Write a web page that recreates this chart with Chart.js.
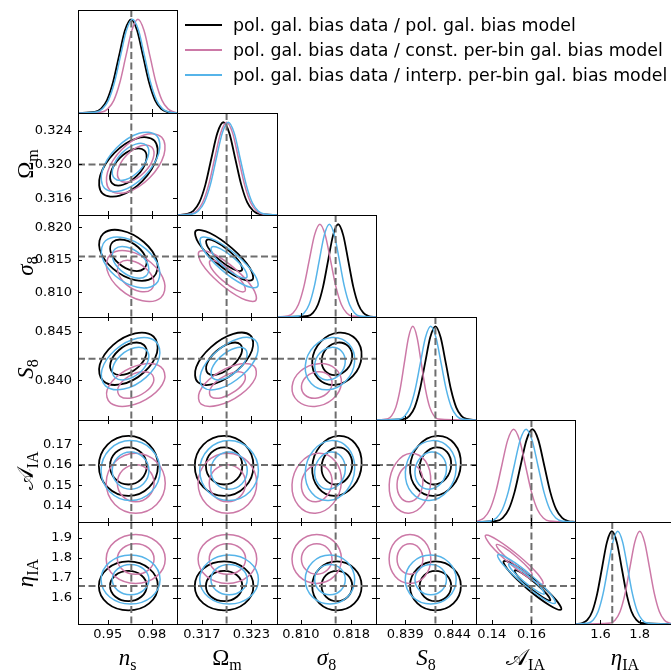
<!DOCTYPE html>
<html>
<head>
<meta charset="utf-8">
<script src="https://cdn.jsdelivr.net/npm/chart.js@4.4.1/dist/chart.umd.min.js"></script>
<style>
html, body { margin: 0; padding: 0; background: #fff; }
body { width: 671px; height: 671px; overflow: hidden; position: relative; }
canvas { position: absolute; }
.key { position: absolute; left: 185px; width: 37px; height: 0; border-top: 2px solid; }
.keytext { position: absolute; left: 233px; font: 17.4px 'DejaVu Sans', sans-serif; color: #000; white-space: nowrap; line-height: 20px; }
.axtitle { position: absolute; font: 23px 'Liberation Serif', 'DejaVu Serif', serif; color: #000; white-space: nowrap; line-height: 1; }
.axtitle sub { font-size: 16px; font-style: normal; vertical-align: baseline; position: relative; top: 5px; }
</style>
</head>
<body>
<script>
// parameter order: n_s, Omega_m, sigma_8, S_8, A_IA, eta_IA
const paramSymbol = ['n', 'Ω', 'σ', 'S', '𝒜', 'η'];
const paramSub = ['s', 'm', '8', '8', 'IA', 'IA'];
const symbolItalic = [true, false, true, true, false, true];
const paramMin = [0.9297, 0.3140, 0.8062, 0.8359, 0.132, 1.47];
const paramMax = [0.9971, 0.3261, 0.8219, 0.8465, 0.182, 1.98];
const truth = [0.966, 0.320, 0.8155, 0.8422, 0.160, 1.66];

const xTickVals = [[0.95, 0.98], [0.317, 0.323], [0.810, 0.818], [0.839, 0.844], [0.14, 0.16], [1.6, 1.8]];
const xTickText = [['0.95', '0.98'], ['0.317', '0.323'], ['0.810', '0.818'], ['0.839', '0.844'], ['0.14', '0.16'], ['1.6', '1.8']];
const yTickVals = [[], [0.316, 0.320, 0.324], [0.810, 0.815, 0.820], [0.840, 0.845], [0.14, 0.15, 0.16, 0.17], [1.6, 1.7, 1.8, 1.9]];
const yTickText = [[], ['0.316', '0.320', '0.324'], ['0.810', '0.815', '0.820'], ['0.840', '0.845'], ['0.14', '0.15', '0.16', '0.17'], ['1.6', '1.7', '1.8', '1.9']];

const modelNames = [
  'pol. gal. bias data / pol. gal. bias model',
  'pol. gal. bias data / const. per-bin gal. bias model',
  'pol. gal. bias data / interp. per-bin gal. bias model'
];
const modelColors = ['#000000', '#cc79a7', '#56b4e9'];
const modelWidths = [1.8, 1.5, 1.5];

// 1D marginals: normalised height shared by every curve, x positions per model
const pdfShape = [0, 0.011, 0.044, 0.135, 0.325, 0.607, 0.883, 1, 0.883, 0.607, 0.325, 0.135, 0.044, 0.011, 0];
const pdf_ns = [
  [0.9297, 0.9412, 0.9453, 0.9494, 0.9535, 0.9576, 0.9617, 0.9658, 0.9699, 0.9740, 0.9781, 0.9822, 0.9863, 0.9904, 0.9971],
  [0.9297, 0.9459, 0.9500, 0.9541, 0.9582, 0.9623, 0.9664, 0.9705, 0.9746, 0.9787, 0.9828, 0.9869, 0.9910, 0.9951, 0.9971],
  [0.9297, 0.9422, 0.9463, 0.9504, 0.9545, 0.9586, 0.9627, 0.9668, 0.9709, 0.9750, 0.9791, 0.9832, 0.9873, 0.9914, 0.9971]
];
const pdf_Om = [
  [0.3140, 0.31525, 0.31598, 0.31670, 0.31743, 0.31815, 0.31888, 0.3196, 0.32033, 0.32105, 0.32178, 0.32250, 0.32323, 0.32395, 0.3261],
  [0.3140, 0.31565, 0.31638, 0.31710, 0.31783, 0.31855, 0.31928, 0.3200, 0.32073, 0.32145, 0.32218, 0.32290, 0.32363, 0.32435, 0.3261],
  [0.3140, 0.31585, 0.31658, 0.31730, 0.31803, 0.31875, 0.31948, 0.3202, 0.32093, 0.32165, 0.32238, 0.32310, 0.32383, 0.32455, 0.3261]
];
const pdf_s8 = [
  [0.8062, 0.8111, 0.8119, 0.8127, 0.8135, 0.8143, 0.8151, 0.8159, 0.8167, 0.8175, 0.8183, 0.8191, 0.8199, 0.8207, 0.8219],
  [0.8062, 0.8079, 0.80875, 0.8096, 0.81045, 0.8113, 0.81215, 0.8130, 0.81385, 0.8147, 0.81555, 0.8164, 0.81725, 0.8181, 0.8219],
  [0.8062, 0.8097, 0.8105, 0.8113, 0.8121, 0.8129, 0.8137, 0.8145, 0.8153, 0.8161, 0.8169, 0.8177, 0.8185, 0.8193, 0.8219]
];
const pdf_S8 = [
  [0.8359, 0.8389, 0.83945, 0.8400, 0.84055, 0.8411, 0.84165, 0.8422, 0.84275, 0.8433, 0.84385, 0.8444, 0.84495, 0.8455, 0.8465],
  [0.8359, 0.8371, 0.83755, 0.8380, 0.83845, 0.8389, 0.83935, 0.8398, 0.84025, 0.8407, 0.84115, 0.8416, 0.84205, 0.8425, 0.8465],
  [0.8359, 0.8384, 0.83895, 0.8395, 0.84005, 0.8406, 0.84115, 0.8417, 0.84225, 0.8428, 0.84335, 0.8439, 0.84445, 0.8450, 0.8465]
];
const pdf_AIA = [
  [0.132, 0.1425, 0.1455, 0.1485, 0.1515, 0.1545, 0.1575, 0.1605, 0.1635, 0.1665, 0.1695, 0.1725, 0.1755, 0.1785, 0.182],
  [0.132, 0.1330, 0.1360, 0.1390, 0.1420, 0.1450, 0.1480, 0.1510, 0.1540, 0.1570, 0.1600, 0.1630, 0.1660, 0.1690, 0.182],
  [0.132, 0.1393, 0.1423, 0.1453, 0.1483, 0.1513, 0.1543, 0.1573, 0.1603, 0.1633, 0.1663, 0.1693, 0.1723, 0.1753, 0.182]
];
const pdf_eta = [
  [1.47, 1.508, 1.533, 1.558, 1.583, 1.608, 1.633, 1.658, 1.683, 1.708, 1.733, 1.758, 1.783, 1.808, 1.98],
  [1.47, 1.650, 1.675, 1.700, 1.725, 1.750, 1.775, 1.800, 1.825, 1.850, 1.875, 1.900, 1.925, 1.950, 1.98],
  [1.47, 1.538, 1.563, 1.588, 1.613, 1.638, 1.663, 1.688, 1.713, 1.738, 1.763, 1.788, 1.813, 1.838, 1.98]
];

// 2D contours, [xs, ys] per loop: black 68/95, pink 68/95, blue 68/95
const c_Om_ns = [
  [[0.9750, 0.9759, 0.9699, 0.9604, 0.9530, 0.9521, 0.9581, 0.9676], [0.32164, 0.32033, 0.31866, 0.31759, 0.31776, 0.31907, 0.32074, 0.32181]],
  [[0.9817, 0.9832, 0.9735, 0.9582, 0.9463, 0.9448, 0.9545, 0.9698], [0.32283, 0.32072, 0.31802, 0.31630, 0.31657, 0.31868, 0.32138, 0.32310]],
  [[0.9800, 0.9809, 0.9749, 0.9654, 0.9580, 0.9571, 0.9631, 0.9726], [0.32204, 0.32073, 0.31906, 0.31799, 0.31816, 0.31947, 0.32114, 0.32221]],
  [[0.9867, 0.9882, 0.9785, 0.9632, 0.9513, 0.9498, 0.9595, 0.9748], [0.32323, 0.32112, 0.31842, 0.31670, 0.31697, 0.31908, 0.32178, 0.32350]],
  [[0.9765, 0.9774, 0.9714, 0.9619, 0.9545, 0.9536, 0.9596, 0.9691], [0.32224, 0.32093, 0.31926, 0.31819, 0.31836, 0.31967, 0.32134, 0.32241]],
  [[0.9832, 0.9847, 0.9750, 0.9597, 0.9478, 0.9463, 0.9560, 0.9713], [0.32343, 0.32132, 0.31862, 0.31690, 0.31717, 0.31928, 0.32198, 0.32370]]
];
const c_s8_ns = [
  [[0.9705, 0.9761, 0.9746, 0.9669, 0.9575, 0.9519, 0.9534, 0.9611], [0.81697, 0.81514, 0.81363, 0.81334, 0.81443, 0.81626, 0.81777, 0.81806]],
  [[0.9745, 0.9835, 0.9811, 0.9686, 0.9535, 0.9445, 0.9469, 0.9594], [0.81775, 0.81479, 0.81236, 0.81189, 0.81365, 0.81661, 0.81904, 0.81951]],
  [[0.9755, 0.9811, 0.9796, 0.9719, 0.9625, 0.9569, 0.9584, 0.9661], [0.81377, 0.81194, 0.81043, 0.81014, 0.81123, 0.81306, 0.81457, 0.81486]],
  [[0.9795, 0.9885, 0.9861, 0.9736, 0.9585, 0.9495, 0.9519, 0.9644], [0.81455, 0.81159, 0.80916, 0.80869, 0.81045, 0.81341, 0.81584, 0.81631]],
  [[0.9720, 0.9776, 0.9761, 0.9684, 0.9590, 0.9534, 0.9549, 0.9626], [0.81587, 0.81404, 0.81253, 0.81224, 0.81333, 0.81516, 0.81667, 0.81696]],
  [[0.9760, 0.9850, 0.9826, 0.9701, 0.9550, 0.9460, 0.9484, 0.9609], [0.81665, 0.81369, 0.81126, 0.81079, 0.81255, 0.81551, 0.81794, 0.81841]]
];
const c_s8_Om = [
  [[0.32030, 0.32163, 0.32182, 0.32077, 0.31910, 0.31777, 0.31758, 0.31863], [0.81637, 0.81452, 0.81336, 0.81358, 0.81503, 0.81688, 0.81804, 0.81782]],
  [[0.32067, 0.32280, 0.32312, 0.32143, 0.31873, 0.31660, 0.31628, 0.31797], [0.81677, 0.81379, 0.81193, 0.81227, 0.81463, 0.81761, 0.81947, 0.81913]],
  [[0.32070, 0.32203, 0.32222, 0.32117, 0.31950, 0.31817, 0.31798, 0.31903], [0.81317, 0.81132, 0.81016, 0.81038, 0.81183, 0.81368, 0.81484, 0.81462]],
  [[0.32107, 0.32320, 0.32352, 0.32183, 0.31913, 0.31700, 0.31668, 0.31837], [0.81357, 0.81059, 0.80873, 0.80907, 0.81143, 0.81441, 0.81627, 0.81593]],
  [[0.32090, 0.32223, 0.32242, 0.32137, 0.31970, 0.31837, 0.31818, 0.31923], [0.81527, 0.81342, 0.81226, 0.81248, 0.81393, 0.81578, 0.81694, 0.81672]],
  [[0.32127, 0.32340, 0.32372, 0.32203, 0.31933, 0.31720, 0.31688, 0.31857], [0.81567, 0.81269, 0.81083, 0.81117, 0.81353, 0.81651, 0.81837, 0.81803]]
];
const c_S8_ns = [
  [[0.9746, 0.9761, 0.9705, 0.9611, 0.9534, 0.9519, 0.9575, 0.9669], [0.84362, 0.84259, 0.84132, 0.84057, 0.84078, 0.84181, 0.84308, 0.84383]],
  [[0.9811, 0.9835, 0.9745, 0.9594, 0.9469, 0.9445, 0.9535, 0.9686], [0.84449, 0.84282, 0.84079, 0.83958, 0.83991, 0.84158, 0.84361, 0.84482]],
  [[0.9796, 0.9811, 0.9755, 0.9661, 0.9584, 0.9569, 0.9625, 0.9719], [0.84066, 0.83982, 0.83878, 0.83817, 0.83834, 0.83918, 0.84022, 0.84083]],
  [[0.9861, 0.9885, 0.9795, 0.9644, 0.9519, 0.9495, 0.9585, 0.9736], [0.84137, 0.84001, 0.83835, 0.83736, 0.83763, 0.83899, 0.84065, 0.84164]],
  [[0.9761, 0.9776, 0.9720, 0.9626, 0.9549, 0.9534, 0.9590, 0.9684], [0.84312, 0.84209, 0.84082, 0.84007, 0.84028, 0.84131, 0.84258, 0.84333]],
  [[0.9826, 0.9850, 0.9760, 0.9609, 0.9484, 0.9460, 0.9550, 0.9701], [0.84399, 0.84232, 0.84029, 0.83908, 0.83941, 0.84108, 0.84311, 0.84432]]
];
const c_S8_Om = [
  [[0.32167, 0.32179, 0.32068, 0.31900, 0.31773, 0.31761, 0.31872, 0.32040], [0.84369, 0.84273, 0.84145, 0.84061, 0.84071, 0.84167, 0.84295, 0.84379]],
  [[0.32288, 0.32307, 0.32129, 0.31858, 0.31652, 0.31633, 0.31811, 0.32082], [0.84461, 0.84305, 0.84100, 0.83964, 0.83979, 0.84135, 0.84340, 0.84476]],
  [[0.32207, 0.32219, 0.32108, 0.31940, 0.31813, 0.31801, 0.31912, 0.32080], [0.84072, 0.83993, 0.83889, 0.83820, 0.83828, 0.83907, 0.84011, 0.84080]],
  [[0.32328, 0.32347, 0.32169, 0.31898, 0.31692, 0.31673, 0.31851, 0.32122], [0.84147, 0.84020, 0.83851, 0.83741, 0.83753, 0.83880, 0.84049, 0.84159]],
  [[0.32227, 0.32239, 0.32128, 0.31960, 0.31833, 0.31821, 0.31932, 0.32100], [0.84319, 0.84223, 0.84095, 0.84011, 0.84021, 0.84117, 0.84245, 0.84329]],
  [[0.32348, 0.32367, 0.32189, 0.31918, 0.31712, 0.31693, 0.31871, 0.32142], [0.84411, 0.84255, 0.84050, 0.83914, 0.83929, 0.84085, 0.84290, 0.84426]]
];
const c_S8_s8 = [
  [[0.81754, 0.81812, 0.81729, 0.81552, 0.81386, 0.81328, 0.81411, 0.81588], [0.84347, 0.84233, 0.84111, 0.84053, 0.84093, 0.84207, 0.84329, 0.84387]],
  [[0.81867, 0.81961, 0.81826, 0.81541, 0.81273, 0.81179, 0.81314, 0.81599], [0.84424, 0.84240, 0.84044, 0.83951, 0.84016, 0.84200, 0.84396, 0.84489]],
  [[0.81434, 0.81492, 0.81409, 0.81232, 0.81066, 0.81008, 0.81091, 0.81268], [0.84054, 0.83960, 0.83861, 0.83814, 0.83846, 0.83940, 0.84039, 0.84086]],
  [[0.81547, 0.81641, 0.81506, 0.81221, 0.80953, 0.80859, 0.80994, 0.81279], [0.84117, 0.83967, 0.83806, 0.83730, 0.83783, 0.83933, 0.84094, 0.84170]],
  [[0.81644, 0.81702, 0.81619, 0.81442, 0.81276, 0.81218, 0.81301, 0.81478], [0.84297, 0.84183, 0.84061, 0.84003, 0.84043, 0.84157, 0.84279, 0.84337]],
  [[0.81757, 0.81851, 0.81716, 0.81431, 0.81163, 0.81069, 0.81204, 0.81489], [0.84374, 0.84190, 0.83994, 0.83901, 0.83966, 0.84150, 0.84346, 0.84439]]
];
const c_AIA_ns = [
  [[0.9728, 0.9765, 0.9728, 0.9640, 0.9552, 0.9515, 0.9552, 0.9640], [0.16595, 0.1595, 0.15305, 0.15038, 0.15305, 0.1595, 0.16595, 0.16862]],
  [[0.9782, 0.9841, 0.9782, 0.9640, 0.9498, 0.9439, 0.9498, 0.9640], [0.16989, 0.1595, 0.14911, 0.1448, 0.14911, 0.1595, 0.16989, 0.1742]],
  [[0.9778, 0.9815, 0.9778, 0.9690, 0.9602, 0.9565, 0.9602, 0.9690], [0.15745, 0.1510, 0.14455, 0.14188, 0.14455, 0.1510, 0.15745, 0.16012]],
  [[0.9832, 0.9891, 0.9832, 0.9690, 0.9548, 0.9489, 0.9548, 0.9690], [0.16139, 0.1510, 0.14061, 0.1363, 0.14061, 0.1510, 0.16139, 0.1657]],
  [[0.9743, 0.9780, 0.9743, 0.9655, 0.9567, 0.9530, 0.9567, 0.9655], [0.16365, 0.1572, 0.15075, 0.14808, 0.15075, 0.1572, 0.16365, 0.16632]],
  [[0.9797, 0.9856, 0.9797, 0.9655, 0.9513, 0.9454, 0.9513, 0.9655], [0.16759, 0.1572, 0.14681, 0.1425, 0.14681, 0.1572, 0.16759, 0.1719]]
];
const c_AIA_Om = [
  [[0.32126, 0.32190, 0.32126, 0.3197, 0.31814, 0.31750, 0.31814, 0.3197], [0.16595, 0.1595, 0.15305, 0.15038, 0.15305, 0.1595, 0.16595, 0.16862]],
  [[0.32221, 0.32325, 0.32221, 0.3197, 0.31719, 0.31615, 0.31719, 0.3197], [0.16989, 0.1595, 0.14911, 0.1448, 0.14911, 0.1595, 0.16989, 0.1742]],
  [[0.32166, 0.32230, 0.32166, 0.3201, 0.31854, 0.31790, 0.31854, 0.3201], [0.15745, 0.1510, 0.14455, 0.14188, 0.14455, 0.1510, 0.15745, 0.16012]],
  [[0.32261, 0.32365, 0.32261, 0.3201, 0.31759, 0.31655, 0.31759, 0.3201], [0.16139, 0.1510, 0.14061, 0.1363, 0.14061, 0.1510, 0.16139, 0.1657]],
  [[0.32186, 0.32250, 0.32186, 0.3203, 0.31874, 0.31810, 0.31874, 0.3203], [0.16365, 0.1572, 0.15075, 0.14808, 0.15075, 0.1572, 0.16365, 0.16632]],
  [[0.32281, 0.32385, 0.32281, 0.3203, 0.31779, 0.31675, 0.31779, 0.3203], [0.16759, 0.1572, 0.14681, 0.1425, 0.14681, 0.1572, 0.16759, 0.1719]]
];
const c_AIA_s8 = [
  [[0.81750, 0.81813, 0.81733, 0.81558, 0.81390, 0.81327, 0.81407, 0.81582], [0.16627, 0.15996, 0.15338, 0.15039, 0.15273, 0.15904, 0.16562, 0.16861]],
  [[0.81861, 0.81962, 0.81833, 0.81550, 0.81279, 0.81178, 0.81307, 0.81590], [0.17041, 0.16024, 0.14964, 0.14481, 0.14859, 0.15876, 0.16936, 0.17419]],
  [[0.81430, 0.81493, 0.81413, 0.81238, 0.81070, 0.81007, 0.81087, 0.81262], [0.15777, 0.15146, 0.14488, 0.14189, 0.14423, 0.15054, 0.15712, 0.16011]],
  [[0.81541, 0.81642, 0.81513, 0.81230, 0.80959, 0.80858, 0.80987, 0.81270], [0.16191, 0.15174, 0.14114, 0.13631, 0.14009, 0.15026, 0.16086, 0.16569]],
  [[0.81640, 0.81703, 0.81623, 0.81448, 0.81280, 0.81217, 0.81297, 0.81472], [0.16397, 0.15766, 0.15108, 0.14809, 0.15043, 0.15674, 0.16332, 0.16631]],
  [[0.81751, 0.81852, 0.81723, 0.81440, 0.81169, 0.81068, 0.81197, 0.81480], [0.16811, 0.15794, 0.14734, 0.14251, 0.14629, 0.15646, 0.16706, 0.17189]]
];
const c_AIA_S8 = [
  [[0.84344, 0.84387, 0.84332, 0.84212, 0.84096, 0.84053, 0.84108, 0.84228], [0.16627, 0.15996, 0.15338, 0.15039, 0.15273, 0.15904, 0.16562, 0.16861]],
  [[0.84420, 0.84489, 0.84401, 0.84206, 0.84020, 0.83951, 0.84039, 0.84234], [0.17041, 0.16024, 0.14964, 0.14481, 0.14859, 0.15876, 0.16936, 0.17419]],
  [[0.84052, 0.84087, 0.84042, 0.83943, 0.83848, 0.83813, 0.83858, 0.83957], [0.15777, 0.15146, 0.14488, 0.14189, 0.14423, 0.15054, 0.15712, 0.16011]],
  [[0.84114, 0.84170, 0.84098, 0.83939, 0.83786, 0.83730, 0.83802, 0.83961], [0.16191, 0.15174, 0.14114, 0.13631, 0.14009, 0.15026, 0.16086, 0.16569]],
  [[0.84294, 0.84337, 0.84282, 0.84162, 0.84046, 0.84003, 0.84058, 0.84178], [0.16397, 0.15766, 0.15108, 0.14809, 0.15043, 0.15674, 0.16332, 0.16631]],
  [[0.84370, 0.84439, 0.84351, 0.84156, 0.83970, 0.83901, 0.83989, 0.84184], [0.16811, 0.15794, 0.14734, 0.14251, 0.14629, 0.15646, 0.16706, 0.17189]]
];
const c_eta_ns = [
  [[0.9728, 0.9765, 0.9728, 0.9640, 0.9552, 0.9515, 0.9552, 0.9640], [1.714, 1.660, 1.606, 1.584, 1.606, 1.660, 1.714, 1.736]],
  [[0.9782, 0.9841, 0.9782, 0.9640, 0.9498, 0.9439, 0.9498, 0.9640], [1.747, 1.660, 1.573, 1.538, 1.573, 1.660, 1.747, 1.783]],
  [[0.9778, 0.9815, 0.9778, 0.9690, 0.9602, 0.9565, 0.9602, 0.9690], [1.849, 1.795, 1.741, 1.719, 1.741, 1.795, 1.849, 1.871]],
  [[0.9832, 0.9891, 0.9832, 0.9690, 0.9548, 0.9489, 0.9548, 0.9690], [1.882, 1.795, 1.708, 1.673, 1.708, 1.795, 1.882, 1.918]],
  [[0.9743, 0.9780, 0.9743, 0.9655, 0.9567, 0.9530, 0.9567, 0.9655], [1.746, 1.692, 1.638, 1.616, 1.638, 1.692, 1.746, 1.768]],
  [[0.9797, 0.9856, 0.9797, 0.9655, 0.9513, 0.9454, 0.9513, 0.9655], [1.779, 1.692, 1.605, 1.570, 1.605, 1.692, 1.779, 1.815]]
];
const c_eta_Om = [
  [[0.32126, 0.32190, 0.32126, 0.3197, 0.31814, 0.31750, 0.31814, 0.3197], [1.714, 1.660, 1.606, 1.584, 1.606, 1.660, 1.714, 1.736]],
  [[0.32221, 0.32325, 0.32221, 0.3197, 0.31719, 0.31615, 0.31719, 0.3197], [1.747, 1.660, 1.573, 1.538, 1.573, 1.660, 1.747, 1.783]],
  [[0.32166, 0.32230, 0.32166, 0.3201, 0.31854, 0.31790, 0.31854, 0.3201], [1.849, 1.795, 1.741, 1.719, 1.741, 1.795, 1.849, 1.871]],
  [[0.32261, 0.32365, 0.32261, 0.3201, 0.31759, 0.31655, 0.31759, 0.3201], [1.882, 1.795, 1.708, 1.673, 1.708, 1.795, 1.882, 1.918]],
  [[0.32186, 0.32250, 0.32186, 0.3203, 0.31874, 0.31810, 0.31874, 0.3203], [1.746, 1.692, 1.638, 1.616, 1.638, 1.692, 1.746, 1.768]],
  [[0.32281, 0.32385, 0.32281, 0.3203, 0.31779, 0.31675, 0.31779, 0.3203], [1.779, 1.692, 1.605, 1.570, 1.605, 1.692, 1.779, 1.815]]
];
const c_eta_s8 = [
  [[0.81742, 0.81813, 0.81742, 0.8157, 0.81398, 0.81327, 0.81398, 0.8157], [1.714, 1.660, 1.606, 1.584, 1.606, 1.660, 1.714, 1.736]],
  [[0.81847, 0.81962, 0.81847, 0.8157, 0.81293, 0.81178, 0.81293, 0.8157], [1.747, 1.660, 1.573, 1.538, 1.573, 1.660, 1.747, 1.783]],
  [[0.81422, 0.81493, 0.81422, 0.8125, 0.81078, 0.81007, 0.81078, 0.8125], [1.849, 1.795, 1.741, 1.719, 1.741, 1.795, 1.849, 1.871]],
  [[0.81527, 0.81642, 0.81527, 0.8125, 0.80973, 0.80858, 0.80973, 0.8125], [1.882, 1.795, 1.708, 1.673, 1.708, 1.795, 1.882, 1.918]],
  [[0.81632, 0.81703, 0.81632, 0.8146, 0.81288, 0.81217, 0.81288, 0.8146], [1.746, 1.692, 1.638, 1.616, 1.638, 1.692, 1.746, 1.768]],
  [[0.81737, 0.81852, 0.81737, 0.8146, 0.81183, 0.81068, 0.81183, 0.8146], [1.779, 1.692, 1.605, 1.570, 1.605, 1.692, 1.779, 1.815]]
];
const c_eta_S8 = [
  [[0.84338, 0.84387, 0.84338, 0.8422, 0.84102, 0.84053, 0.84102, 0.8422], [1.714, 1.660, 1.606, 1.584, 1.606, 1.660, 1.714, 1.736]],
  [[0.84411, 0.84490, 0.84411, 0.8422, 0.84029, 0.83950, 0.84029, 0.8422], [1.747, 1.660, 1.573, 1.538, 1.573, 1.660, 1.747, 1.783]],
  [[0.84047, 0.84087, 0.84047, 0.8395, 0.83853, 0.83813, 0.83853, 0.8395], [1.849, 1.795, 1.741, 1.719, 1.741, 1.795, 1.849, 1.871]],
  [[0.84106, 0.84171, 0.84106, 0.8395, 0.83794, 0.83729, 0.83794, 0.8395], [1.882, 1.795, 1.708, 1.673, 1.708, 1.795, 1.882, 1.918]],
  [[0.84288, 0.84337, 0.84288, 0.8417, 0.84052, 0.84003, 0.84052, 0.8417], [1.746, 1.692, 1.638, 1.616, 1.638, 1.692, 1.746, 1.768]],
  [[0.84361, 0.84440, 0.84361, 0.8417, 0.83979, 0.83900, 0.83979, 0.8417], [1.779, 1.692, 1.605, 1.570, 1.605, 1.692, 1.779, 1.815]]
];
const c_eta_AIA = [
  [[0.16194, 0.16788, 0.16950, 0.16585, 0.15906, 0.15312, 0.15150, 0.15515], [1.675, 1.618, 1.588, 1.602, 1.651, 1.708, 1.738, 1.725]],
  [[0.16282, 0.17240, 0.17501, 0.16912, 0.15818, 0.14860, 0.14599, 0.15188], [1.682, 1.591, 1.542, 1.564, 1.644, 1.735, 1.784, 1.762]],
  [[0.15274, 0.15868, 0.16030, 0.15665, 0.14986, 0.14392, 0.14230, 0.14595], [1.804, 1.747, 1.717, 1.731, 1.780, 1.837, 1.867, 1.854]],
  [[0.15362, 0.16320, 0.16581, 0.15992, 0.14898, 0.13940, 0.13679, 0.14268], [1.811, 1.720, 1.671, 1.693, 1.773, 1.864, 1.913, 1.891]],
  [[0.15894, 0.16488, 0.16650, 0.16285, 0.15606, 0.15012, 0.14850, 0.15215], [1.707, 1.650, 1.620, 1.634, 1.683, 1.740, 1.770, 1.757]],
  [[0.15982, 0.16940, 0.17201, 0.16612, 0.15518, 0.14560, 0.14299, 0.14888], [1.714, 1.623, 1.574, 1.596, 1.676, 1.767, 1.816, 1.794]]
];

const pdfPanels = [pdf_ns, pdf_Om, pdf_s8, pdf_S8, pdf_AIA, pdf_eta];
const contourPanels = {
  '1,0': c_Om_ns, '2,0': c_s8_ns, '2,1': c_s8_Om,
  '3,0': c_S8_ns, '3,1': c_S8_Om, '3,2': c_S8_s8,
  '4,0': c_AIA_ns, '4,1': c_AIA_Om, '4,2': c_AIA_s8, '4,3': c_AIA_S8,
  '5,0': c_eta_ns, '5,1': c_eta_Om, '5,2': c_eta_s8, '5,3': c_eta_S8, '5,4': c_eta_AIA
};

// grid of panel edges in page pixels
const colEdge = [78, 177, 277, 376, 476, 575, 675];
const rowEdge = [10, 113, 215, 317, 420, 522, 624];
const labelBand = 22;

// frame, inward ticks and dashed fiducial lines for each panel
const panelDecor = {
  id: 'panelDecor',
  afterDatasetsDraw(chart, args, opts) {
    const { ctx, chartArea: a } = chart;
    const sx = chart.scales.x, sy = chart.scales.y;
    ctx.save();
    ctx.beginPath();
    ctx.rect(a.left, a.top, a.right - a.left + 1, a.bottom - a.top + 1);
    ctx.clip();
    ctx.strokeStyle = '#6e6e6e';
    ctx.lineWidth = 2;
    ctx.setLineDash([7, 3.5]);
    const tx = sx.getPixelForValue(opts.truthX);
    ctx.beginPath();
    ctx.moveTo(tx, a.top);
    ctx.lineTo(tx, a.bottom);
    ctx.stroke();
    if (opts.truthY !== null) {
      const ty = sy.getPixelForValue(opts.truthY);
      ctx.beginPath();
      ctx.moveTo(a.left, ty);
      ctx.lineTo(a.right, ty);
      ctx.stroke();
    }
    ctx.setLineDash([]);
    ctx.strokeStyle = '#000';
    ctx.lineWidth = 1;
    ctx.beginPath();
    opts.xTicks.forEach(v => {
      const p = Math.round(sx.getPixelForValue(v)) + 0.5;
      ctx.moveTo(p, a.bottom);
      ctx.lineTo(p, a.bottom - 4);
      if (opts.twoD) {
        ctx.moveTo(p, a.top);
        ctx.lineTo(p, a.top + 4);
      }
    });
    opts.yTicks.forEach(v => {
      const p = Math.round(sy.getPixelForValue(v)) + 0.5;
      ctx.moveTo(a.left, p);
      ctx.lineTo(a.left + 4, p);
      ctx.moveTo(a.right, p);
      ctx.lineTo(a.right - 4, p);
    });
    ctx.stroke();
    ctx.restore();
    ctx.save();
    ctx.strokeStyle = '#000';
    ctx.lineWidth = 1;
    ctx.strokeRect(a.left + 0.5, a.top + 0.5, a.right - a.left, a.bottom - a.top);
    ctx.restore();
  }
};

function loopDataset(xs, ys, m) {
  const pts = xs.map((x, i) => ({ x: x, y: ys[i] }));
  const n = pts.length;
  // wrap the loop so every visible segment gets smooth control points
  const data = [pts[n - 1], ...pts, pts[0], pts[1]];
  return {
    data: data,
    showLine: true,
    tension: 0.38,
    pointRadius: 0,
    borderColor: modelColors[m],
    borderWidth: modelWidths[m],
    order: 2 - m,
    segment: {
      borderColor: ctx => (ctx.p0DataIndex === 0 || ctx.p0DataIndex === n + 1) ? 'rgba(0,0,0,0)' : undefined
    }
  };
}

function pdfDataset(xs, m) {
  return {
    data: xs.map((x, i) => ({ x: x, y: pdfShape[i] })),
    showLine: true,
    cubicInterpolationMode: 'monotone',
    pointRadius: 0,
    borderColor: modelColors[m],
    borderWidth: modelWidths[m],
    order: 2 - m
  };
}

// keep the plot box fixed: no extra room for overhanging tick labels
function pinScale(s, size, horizontal) {
  if (horizontal) s.height = size; else s.width = size;
  s.paddingTop = 0;
  s.paddingBottom = 0;
  s.paddingLeft = 0;
  s.paddingRight = 0;
}

function makePanel(r, c) {
  const L = colEdge[c], R = colEdge[c + 1], T = rowEdge[r], B = rowEdge[r + 1];
  const diag = r === c;
  const showY = c === 0 && !diag;
  const showX = r === 5;
  const left = showY ? 0 : L;
  const w = R - left + 1;
  const h = B - T + 1 + (showX ? labelBand : 0);
  const canvas = document.createElement('canvas');
  canvas.width = w;
  canvas.height = h;
  canvas.style.left = left + 'px';
  canvas.style.top = T + 'px';
  canvas.style.width = w + 'px';
  canvas.style.height = h + 'px';
  document.body.appendChild(canvas);

  const datasets = [];
  if (diag) {
    pdfPanels[c].forEach((xs, m) => datasets.push(pdfDataset(xs, m)));
  } else {
    contourPanels[r + ',' + c].forEach((loop, k) => datasets.push(loopDataset(loop[0], loop[1], Math.floor(k / 2))));
  }

  const tickFont = { family: 'DejaVu Sans', size: 13 };
  new Chart(canvas, {
    type: 'scatter',
    data: { datasets: datasets },
    plugins: [panelDecor],
    options: {
      responsive: false,
      maintainAspectRatio: false,
      animation: false,
      events: [],
      layout: { padding: { left: 0, top: 0, right: 1, bottom: 1 } },
      plugins: {
        legend: { display: false },
        tooltip: { enabled: false },
        panelDecor: {
          truthX: truth[c],
          truthY: diag ? null : truth[r],
          xTicks: xTickVals[c],
          yTicks: diag ? [] : yTickVals[r],
          twoD: !diag
        }
      },
      scales: {
        x: {
          type: 'linear',
          min: paramMin[c],
          max: paramMax[c],
          display: showX,
          grid: { display: false, drawTicks: false },
          border: { display: false },
          afterBuildTicks: s => { s.ticks = xTickVals[c].map(v => ({ value: v })); },
          afterFit: s => { if (showX) pinScale(s, labelBand, true); },
          ticks: {
            autoSkip: false, maxRotation: 0, padding: 3, color: '#000', font: tickFont,
            callback: (v, i) => xTickText[c][i]
          }
        },
        y: {
          type: 'linear',
          min: diag ? 0 : paramMin[r],
          max: diag ? 1.1 : paramMax[r],
          display: showY,
          grid: { display: false, drawTicks: false },
          border: { display: false },
          afterBuildTicks: s => { if (!diag) s.ticks = yTickVals[r].map(v => ({ value: v })); },
          afterFit: s => { if (showY) pinScale(s, L, false); },
          ticks: {
            autoSkip: false, padding: 6, color: '#000', font: tickFont,
            callback: (v, i) => diag ? '' : yTickText[r][i]
          }
        }
      }
    }
  });
}

for (let r = 0; r < 6; r++) {
  for (let c = 0; c <= r; c++) makePanel(r, c);
}

// legend
modelNames.forEach((name, m) => {
  const cy = 25 + 25 * m;
  const line = document.createElement('div');
  line.className = 'key';
  line.style.top = (cy - 1) + 'px';
  line.style.borderTopColor = modelColors[m];
  document.body.appendChild(line);
  const txt = document.createElement('div');
  txt.className = 'keytext';
  txt.style.top = (cy - 10) + 'px';
  txt.textContent = name;
  document.body.appendChild(txt);
});

// axis titles
function titleNode(p) {
  const el = document.createElement('div');
  el.className = 'axtitle';
  const main = document.createElement('span');
  main.textContent = paramSymbol[p];
  main.style.fontStyle = symbolItalic[p] ? 'italic' : 'normal';
  const sub = document.createElement('sub');
  sub.textContent = paramSub[p];
  el.appendChild(main);
  el.appendChild(sub);
  document.body.appendChild(el);
  return el;
}
for (let c = 0; c < 6; c++) {
  const el = titleNode(c);
  el.style.left = ((colEdge[c] + colEdge[c + 1]) / 2) + 'px';
  el.style.top = '646px';
  el.style.transform = 'translateX(-50%)';
}
for (let r = 1; r < 6; r++) {
  const el = titleNode(r);
  el.style.left = '25px';
  el.style.top = ((rowEdge[r] + rowEdge[r + 1]) / 2) + 'px';
  el.style.transform = 'translate(-50%, -50%) rotate(-90deg)';
}
</script>
</body>
</html>
